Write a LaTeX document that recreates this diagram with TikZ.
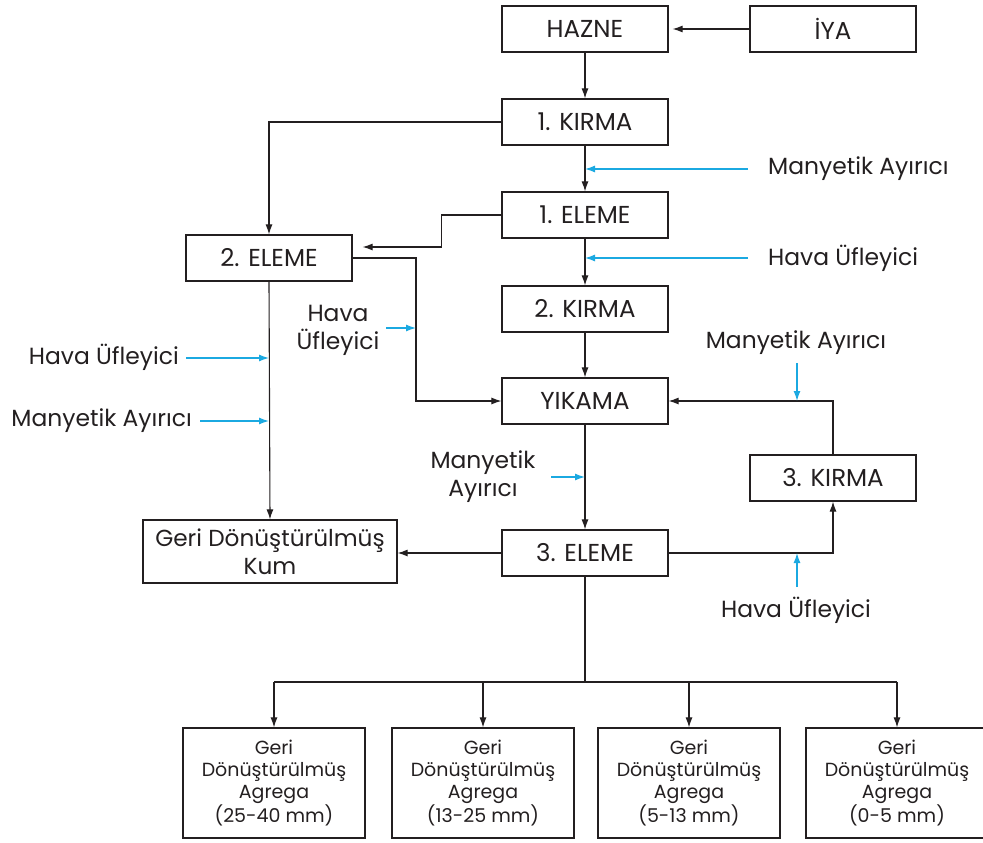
\documentclass[tikz,border=0pt]{standalone}
\usepackage{fontspec}
\setmainfont{Poppins}
\usetikzlibrary{arrows.meta}
\definecolor{ink}{HTML}{231F20}
\definecolor{sky}{HTML}{1BA9E1}
\begin{document}
\begin{tikzpicture}
[
    x=1pt, y=-1pt,
    box/.style={draw=ink, line width=1.2pt, minimum width=166pt, minimum height=46pt,
        inner sep=0pt, text=ink, align=center, font=\fontsize{24.5}{28}\selectfont},
    outbox/.style={box, minimum width=182pt, minimum height=110pt,
        font=\fontsize{19}{22}\selectfont},
    lbl/.style={inner sep=0pt, text=ink, align=center, font=\fontsize{23.4}{28}\selectfont},
    flow/.style={draw=ink, line width=1.1pt, -{Latex[length=10pt,width=7pt]}},
    feed/.style={draw=sky, line width=1.3pt, -{Latex[length=10pt,width=7pt]}},
]
    \useasboundingbox (0,0) rectangle (983,843);

    % main line
    \node[box] (hazne)  at (585,29)  {HAZNE};
    \node[box] (iya)    at (833,29)  {İYA};
    \node[box] (kirma1) at (585,122) {1. KIRMA};
    \node[box] (eleme1) at (585,215) {1. ELEME};
    \node[box] (eleme2) at (269,258) {2. ELEME};
    \node[box] (kirma2) at (585,309) {2. KIRMA};
    \node[box] (yikama) at (585,401) {YIKAMA};
    \node[box] (eleme3) at (585,553) {3. ELEME};
    \node[box] (kirma3) at (833,478) {3. KIRMA};
    \node[box, minimum width=254pt, minimum height=63pt,
        font=\fontsize{23.2}{28}\selectfont] (kum) at (270,551.5)
        {Geri Dönüştürülmüş\\Kum};

    % outputs
    \node[outbox] (agr1) at (274,783) {Geri\\Dönüştürülmüş\\Agrega\\(25-40 mm)};
    \node[outbox] (agr2) at (483,783) {Geri\\Dönüştürülmüş\\Agrega\\(13-25 mm)};
    \node[outbox] (agr3) at (689,783) {Geri\\Dönüştürülmüş\\Agrega\\(5-13 mm)};
    \node[outbox] (agr4) at (897,783) {Geri\\Dönüştürülmüş\\Agrega\\(0-5 mm)};

    % labels
    \node[lbl, anchor=west] (mag1) at (768,169) {Manyetik Ayırıcı};
    \node[lbl, anchor=west] (hava1) at (768,258) {Hava Üfleyici};
    \node[lbl] (hava2) at (338,330) {Hava\\Üfleyici};
    \node[lbl, anchor=east] (hava3) at (179,357) {Hava Üfleyici};
    \node[lbl, anchor=east] (mag2) at (192,421) {Manyetik Ayırıcı};
    \node[lbl] (mag3) at (483,477) {Manyetik\\Ayırıcı};
    \node[lbl] (mag4) at (796,343) {Manyetik Ayırıcı};
    \node[lbl] (hava4) at (796,610) {Hava Üfleyici};

    % connectors
    \draw[flow, shorten >=4pt] (iya.west) -- (hazne.east);
    \draw[flow] (hazne.south) -- (kirma1.north);
    \draw[flow] (kirma1.west) -| (eleme2.north);
    \draw[flow] (kirma1.south) -- (eleme1.north);
    \draw[flow] (eleme1.west) -- ++(-60,0) |- ([xshift=10pt,yshift=11pt]eleme2.east);
    \draw[flow] (eleme1.south) -- (kirma2.north);
    \draw[flow] (kirma2.south) -- (yikama.north);
    \coordinate (split) at (416,258);
    \draw[flow] (eleme2.east) -- (split) |- (yikama.west);
    \draw[flow] (eleme2.south) -- (kum.north);
    \draw[flow] (yikama.south) -- (eleme3.north);
    \draw[flow] (eleme3.west) -- (eleme3.west -| kum.east);
    \draw[flow] (eleme3.east) -| (kirma3.south);
    \draw[flow] (kirma3.north) |- (yikama.east);

    \coordinate (bus) at (585,682);
    \draw[ink, line width=1.1pt] (eleme3.south) -- (bus);
    \draw[ink, line width=1.1pt] (agr1.north |- bus) -- (agr4.north |- bus);
    \foreach \i in {1,...,4}
        \draw[flow] (agr\i.north |- bus) -- (agr\i.north);

    % feeds
    \coordinate (f1) at (748,169);
    \coordinate (f2) at (748,258);
    \coordinate (f3) at (386,328);
    \coordinate (f4) at (186,358);
    \coordinate (f5) at (200,421);
    \coordinate (f6) at (551,477);
    \coordinate (f7) at (797,363);
    \coordinate (f8) at (797,587);
    \draw[feed] (f1) -- (f1 -| kirma1.south);
    \draw[feed] (f2) -- (f2 -| eleme1.south);
    \draw[feed] (f3) -- (f3 -| split);
    \draw[feed] (f4) -- (f4 -| eleme2.south);
    \draw[feed] (f5) -- (f5 -| eleme2.south);
    \draw[feed] (f6) -- (f6 -| yikama.south);
    \draw[feed] (f7) -- (f7 |- yikama.east);
    \draw[feed] (f8) -- (f8 |- eleme3.east);
\end{tikzpicture}
\end{document}
